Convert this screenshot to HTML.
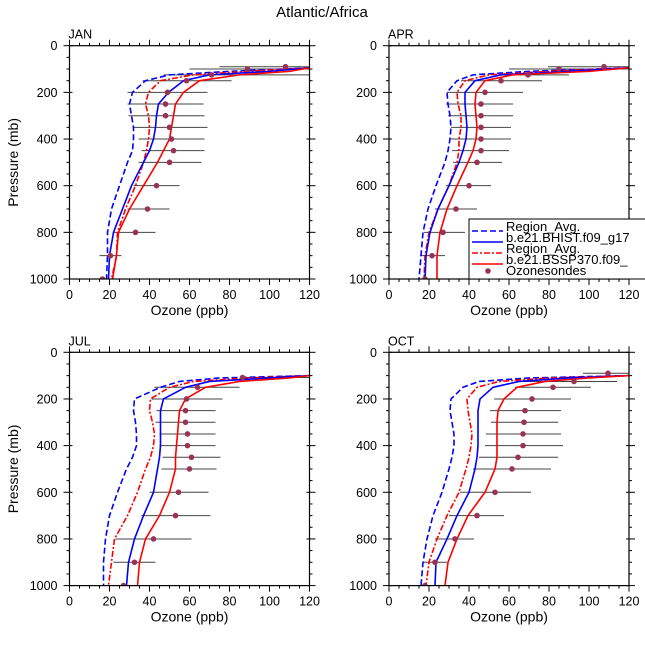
<!DOCTYPE html>
<html><head><meta charset="utf-8"><style>
html,body{margin:0;padding:0;background:#fff;}
svg text{font-family:"Liberation Sans","DejaVu Sans",sans-serif;fill:#000;}
</style></head><body>
<svg id="chart" width="645" height="642" viewBox="0 0 645 642" xmlns="http://www.w3.org/2000/svg">
<text x="322" y="17" text-anchor="middle" font-size="15">Atlantic/Africa</text>
</svg>
<script>
const xTicks = [0,20,40,60,80,100,120];
const yTicks = [0,200,400,600,800,1000];
const months = ["JAN","APR","JUL","OCT"];
const lineP = [95,110,125,150,200,250,300,350,400,450,500,600,700,800,900,1000];
const lineP2 = [100,110,125,150,200,250,300,350,400,450,500,600,700,800,900,1000];
// JAN
const janBlueDash = [120,80,50,38,31.5,30,31,32,32,31.5,29,25,21,19,19,18.5];
const janRedDash  = [120,88,62,45.5,39.5,38,39.5,40,39.5,38.5,37,33,28,24,23.5,21];
const janBlue     = [120,100,70,57,49.5,44.5,43.5,43,42,40,37,31,26.5,22,20,19.5];
const janRed      = [120,110,85,65,57,53,52,51,50,47,44,37,30,24.5,23.5,21.5];
const janSondeP = [90,100,125,150,200,250,300,350,400,450,500,600,700,800,900,1000];
const janSonde  = [108,89,71,58.5,49,48,48,50,51,52,50,43.5,39,33,20.5,16.5];
const janLo     = [75,60,47,36.5,29,29,29.5,31.5,34.5,36,34.5,32,29,22,15,12];
const janHi     = [120,120,120,81,69,67,67.5,69,67.5,67.5,66,55,50,43,26,21];
// APR
const aprBlueDash = [120,70,42,34,29,29.5,30.5,31,30.5,29.5,28,23.5,19.5,17,16,15];
const aprRedDash  = [120,80,50,38,34,34.5,36,36,35,35,34,30,24.5,20,18,17.5];
const aprBlue     = [120,90,56,43,38,38,38.5,39,38.5,37,35,30,24.5,20.5,18.5,18];
const aprRed      = [120,100,62,48,43.5,43,43.5,44,43.5,42,39.5,34,29,25.5,24,24];
const aprSondeP = [90,100,125,150,200,250,300,350,400,450,500,600,700,800,900,1000];
const aprSonde  = [107.5,85,69.5,56,48,46,46,46,46,46,44,40,33.5,27,21.5,18];
const aprLo     = [79.5,60,54.5,36,29,28.5,29.5,31,31,31.5,32,28.5,23,17.5,15.5,12.5];
const aprHi     = [120,120,90,76.5,67,62,62,61,61,60,56.5,51,44,38,28,23];
// JUL
const julBlueDash = [120,75,55,45.5,32.5,32,33,33.5,33.5,31.5,28.5,24,20,18,17,17];
const julRedDash  = [120,90,62,50,40.5,40,41.5,42.5,42,40.5,38,34,29,22.5,21,19.5];
const julBlue     = [120,100,70,58,47,45.5,45.5,45.5,45.5,45,44,42,37,32.5,29.5,28.5];
const julRed      = [120,110,85,68,58,55,54.5,54,53.5,53,53,50,45,38,35,34];
const julSondeP = [108,150,200,250,300,350,400,450,500,600,700,800,900,1000];
const julSonde  = [86.5,64,58.5,58,58,59,59,61,60,54.5,53,42,32.5,27];
const julLo     = [88,42.5,41,43.5,43,45,45,46.5,46,40,36,23,22,18];
const julHi     = [120,85,76.5,73,73,73,73,75.5,73.5,69.5,70.5,61,43,35];
// OCT
const octBlueDash = [120,70,45,37,31,30.5,31.5,32.5,32.5,31.5,30,26.5,22,19,17,16];
const octRedDash  = [120,80,55,44,39,39.5,40.5,41.5,41,40,38.5,35,29,24,20,18.5];
const octBlue     = [120,90,65,52,45.5,44.5,44.5,44.5,44.5,44,43,40,34,29,23.5,23];
const octRed      = [120,100,78,64,57.5,54.5,54,54,54,54,53,48,39.5,34,29.5,28];
const octSondeP = [90,125,150,200,250,300,350,400,450,500,600,700,800,900,1000];
const octSonde  = [109.5,92.5,82,71.5,68,67.5,67,67,64.5,61.5,53,44,33,23,18];
const octLo     = [97,64.5,63,52.5,50.5,51,48.5,48,45,42,35.5,30,23,17,13.5];
const octHi     = [120,114,101,91,86,84.5,86,87,84.5,81,71,57.5,42.5,29,22.5];

const panelData = [
 {bd:janBlueDash,rd:janRedDash,b:janBlue,r:janRed,sp:janSondeP,s:janSonde,lo:janLo,hi:janHi,lp:lineP},
 {bd:aprBlueDash,rd:aprRedDash,b:aprBlue,r:aprRed,sp:aprSondeP,s:aprSonde,lo:aprLo,hi:aprHi,lp:lineP},
 {bd:julBlueDash,rd:julRedDash,b:julBlue,r:julRed,sp:julSondeP,s:julSonde,lo:julLo,hi:julHi,lp:lineP2},
 {bd:octBlueDash,rd:octRedDash,b:octBlue,r:octRed,sp:octSondeP,s:octSonde,lo:octLo,hi:octHi,lp:lineP2}
];
const origins = [[69.5,45.7],[389,45.7],[69.5,352.3],[389,352.3]];
const W = 240, H = 233.3;
const NS = "http://www.w3.org/2000/svg";
const svg = document.getElementById('chart');
function mk(tag, attrs, parent){
  const e = document.createElementNS(NS, tag);
  for (const k in attrs) e.setAttribute(k, attrs[k]);
  (parent||svg).appendChild(e);
  return e;
}
months.forEach((m, i) => {
  const [ox, oy] = origins[i];
  const xs = v => ox + v / 120 * W;
  const ys = p => oy + p / 1000 * H;
  const d = panelData[i];
  const g = mk('g', {});
  
  
  const clipId = 'clip' + i;
  const cp = mk('clipPath', {id: clipId}, g);
  mk('rect', {x: ox, y: oy, width: W, height: H}, cp);
  d.sp.forEach((p, k) => {
    const l = mk('line', {x1: xs(d.lo[k]), x2: xs(d.hi[k]), y1: ys(p), y2: ys(p), stroke: '#444', 'stroke-width': 1, 'clip-path': 'url(#' + clipId + ')'}, g);
    
    
  });
  const series = [[d.bd,'#0000ff','6,3','model-hist-region-avg-dashed'],[d.rd,'#ff0000','6,2,2,2','model-ssp370-region-avg-dashed'],[d.b,'#0000ff','','model-hist-line'],[d.r,'#ff0000','','model-ssp370-line']];
  series.forEach(([vals, col, dash, nm]) => {
    const pts = vals.map((v, k) => xs(v) + ',' + ys(d.lp[k])).join(' ');
    const pl = mk('polyline', {points: pts, fill: 'none', stroke: col, 'stroke-width': 1.6, 'stroke-dasharray': dash, 'stroke-linejoin': 'round', 'clip-path': 'url(#' + clipId + ')'}, g);
    
    
  });
  d.sp.forEach((p, k) => {
    const c = mk('circle', {cx: xs(d.s[k]), cy: ys(p), r: 2.8, fill: '#993355', 'clip-path': 'url(#' + clipId + ')'}, g);
    
    
  });
  const fr = mk('rect', {x: ox, y: oy, width: W, height: H, fill: 'none', stroke: '#000', 'stroke-width': 1.2}, g);
  
  
  for (let v = 0; v <= 120; v += 5) {
    const maj = v % 20 === 0;
    const len = maj ? 6 : 3;
    mk('line', {x1: xs(v), x2: xs(v), y1: oy + H, y2: oy + H + len, stroke: '#000'}, g);
    mk('line', {x1: xs(v), x2: xs(v), y1: oy, y2: oy - len, stroke: '#000'}, g);
  }
  xTicks.forEach(v => {
    const t = mk('text', {x: xs(v), y: oy + H + 20, 'text-anchor': 'middle', 'font-size': 12.5}, g);
    t.textContent = v;
    
    
  });
  for (let p = 0; p <= 1000; p += 50) {
    const maj = p % 200 === 0;
    const len = maj ? 6 : 3;
    mk('line', {x1: ox - len, x2: ox + (maj ? 3 : 0), y1: ys(p), y2: ys(p), stroke: '#000'}, g);
    mk('line', {x1: ox + W - (maj ? 3 : 0), x2: ox + W + len, y1: ys(p), y2: ys(p), stroke: '#000'}, g);
  }
  yTicks.forEach(p => {
    const t = mk('text', {x: ox - 12, y: ys(p) + 4.5, 'text-anchor': 'end', 'font-size': 12.5}, g);
    t.textContent = p;
    
    
  });
  const ml = mk('text', {x: ox - 1, y: oy - 7, 'font-size': 12.5}, g);
  ml.textContent = m;
  
  
  const xl = mk('text', {x: ox + W / 2, y: oy + H + 36, 'text-anchor': 'middle', 'font-size': 14}, g);
  xl.textContent = 'Ozone (ppb)';
  
  
  if (i % 2 === 0) {
    const yl = mk('text', {x: 18, y: oy + H / 2, 'text-anchor': 'middle', 'font-size': 14, transform: 'rotate(-90 18 ' + (oy + H / 2) + ')'}, g);
    yl.textContent = 'Pressure (mb)';
    
    
  }
});
const lg = mk('g', {});


mk('rect', {x: 469, y: 219, width: 180, height: 60, fill: '#fff', stroke: '#000', 'stroke-width': 1}, lg);
const legItems = [
 ['Region_Avg.', '#0000ff', '6,3', 'line'],
 ['b.e21.BHIST.f09_g17', '#0000ff', '', 'line'],
 ['Region_Avg.', '#ff0000', '6,2,2,2', 'line'],
 ['b.e21.BSSP370.f09_', '#ff0000', '', 'line'],
 ['Ozonesondes', '#993355', '', 'dot']
];
legItems.forEach(([txt, col, dash, kind], k) => {
  const y = 227 + k * 11;
  const e = mk('g', {}, lg);
  
  
  if (kind === 'line') mk('line', {x1: 472, x2: 503, y1: y + 4, y2: y + 4, stroke: col, 'stroke-width': 1.6, 'stroke-dasharray': dash}, e);
  else mk('circle', {cx: 488, cy: y, r: 2.8, fill: col}, e);
  const t = mk('text', {x: 506, y: y + 4, 'font-size': 13}, e);
  t.textContent = txt;
});
</script>
</body></html>
